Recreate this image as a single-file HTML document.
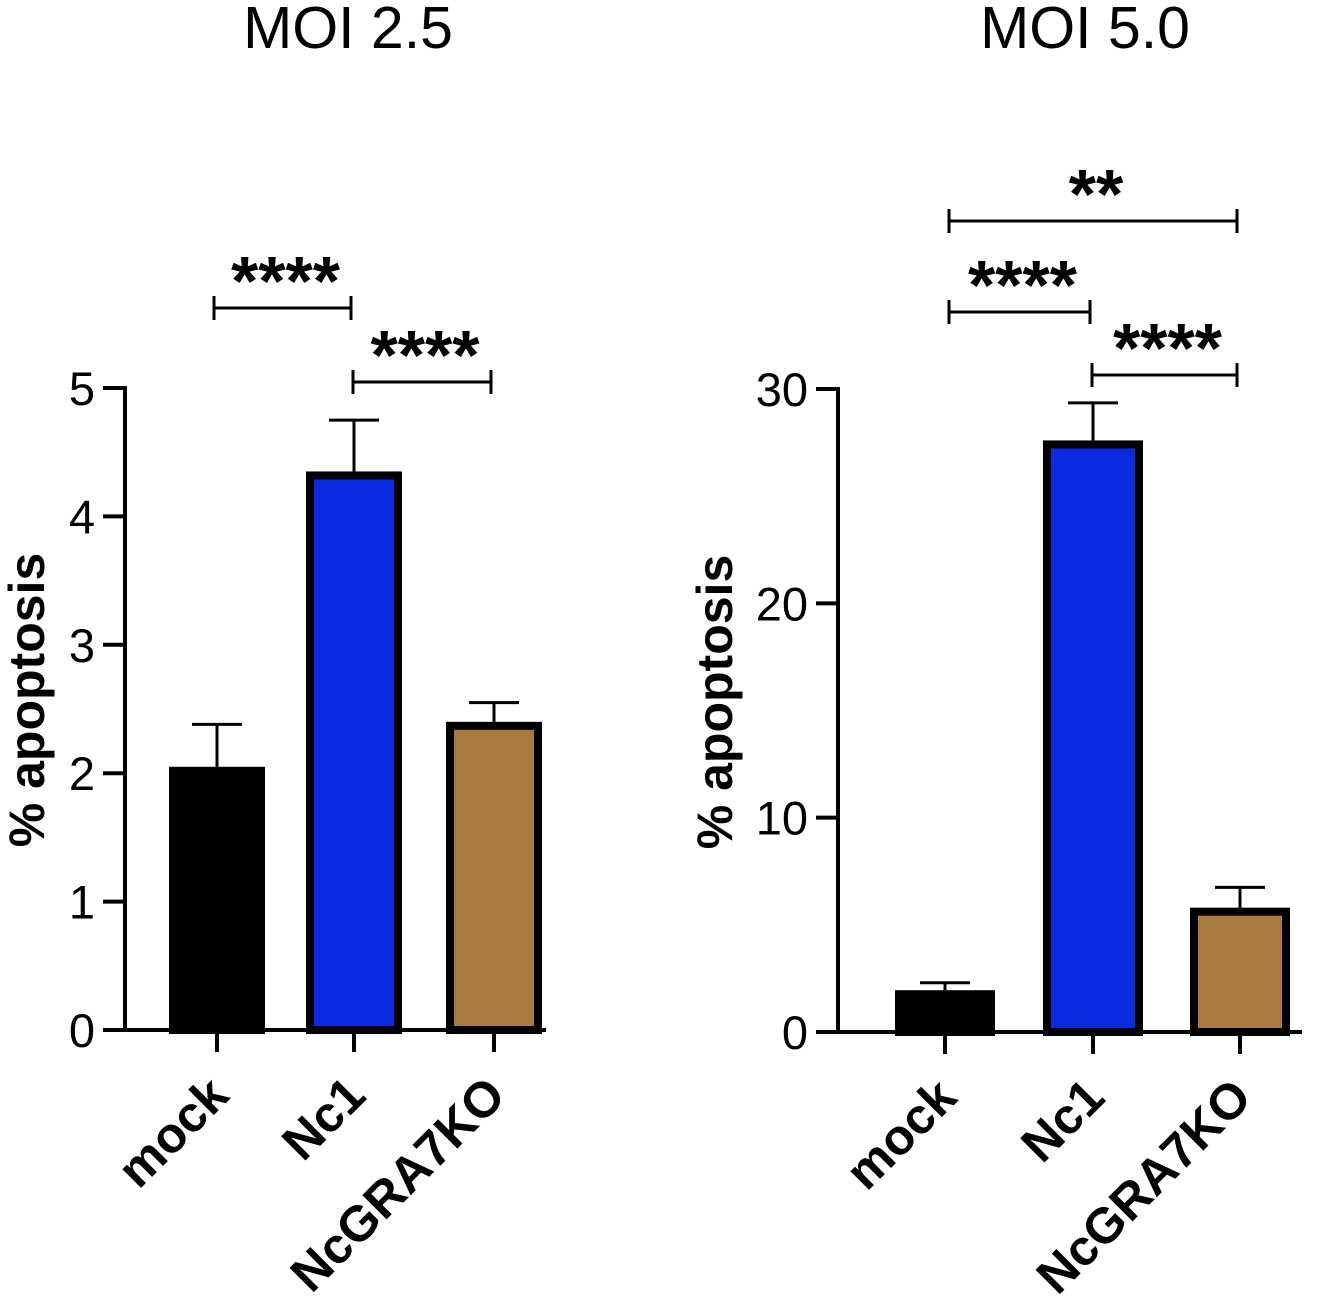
<!DOCTYPE html>
<html><head><meta charset="utf-8"><style>
html,body{margin:0;padding:0;background:#fff}
svg{display:block;font-family:"Liberation Sans",Arial,sans-serif}
</style></head><body>
<svg id="chart" width="1344" height="1304" viewBox="0 0 1344 1304" xmlns="http://www.w3.org/2000/svg"></svg>
<script>
const categories = ["mock","Nc1","NcGRA7KO"];
const colors = ["#000000","#0a2be0","#a87a42"];
const moi25Values = [2.05, 4.35, 2.4];
const moi25Errors = [0.33, 0.4, 0.15];
const moi25Ticks = [0,1,2,3,4,5];
const moi5Values = [1.95, 27.6, 5.8];
const moi5Errors = [0.35, 1.75, 0.95];
const moi5Ticks = [0,10,20,30];
const moi25Sig = [{a:0,b:1,label:"****",level:0},{a:1,b:2,label:"****",level:1}];
const moi5Sig = [{a:0,b:2,label:"**",level:0},{a:0,b:1,label:"****",level:1},{a:1,b:2,label:"****",level:2}];

const svg = document.getElementById('chart');
const NS = "http://www.w3.org/2000/svg";
function mk(tag, attrs, parent){ const e=document.createElementNS(NS,tag); for(const k in attrs) e.setAttribute(k,attrs[k]); (parent||svg).appendChild(e); return e; }

function panel(cfg){
  const g = mk('g',{});
  
  
  const y = v => cfg.y0 - (v - 0) / cfg.max * (cfg.y0 - cfg.yTop);
  const x = i => cfg.xs[i];
  const title = mk('text',{x:cfg.titleX,y:48,'font-size':59,'text-anchor':'middle'},g);
  title.textContent = cfg.title;
  
  
  const ya = mk('line',{x1:cfg.ax,y1:y(cfg.max)-2,x2:cfg.ax,y2:cfg.y0+2,stroke:'#000','stroke-width':4},g);
  
  
  cfg.ticks.forEach(t=>{
    const tk = mk('line',{x1:cfg.ax-22,y1:y(t),x2:cfg.ax,y2:y(t),stroke:'#000','stroke-width':4},g);
    
    
    const tl = mk('text',{x:cfg.ax-30,y:y(t)+17,'font-size':47,'text-anchor':'end'},g);
    tl.textContent = t;
    
    
  });
  const yt = mk('text',{x:0,y:0,'font-size':50,'font-weight':'bold','text-anchor':'middle',transform:`translate(${cfg.ytX},${cfg.ytY}) rotate(-90)`},g);
  yt.textContent = '% apoptosis';
  
  
  cfg.values.forEach((v,i)=>{
    const cx = x(i), w = cfg.bw;
    const et = y(v + cfg.errs[i]);
    const el = mk('line',{x1:cx,y1:et,x2:cx,y2:y(v),stroke:'#000','stroke-width':3},g);
    
    
    const ec = mk('line',{x1:cx-25,y1:et,x2:cx+25,y2:et,stroke:'#000','stroke-width':3},g);
    
    
    const r = mk('rect',{x:cx-w/2+4,y:y(v)+4,width:w-8,height:Math.max(0,cfg.y0-y(v)-4),fill:colors[i],stroke:'#000','stroke-width':8},g);
    
    
  });
  const xa = mk('line',{x1:cfg.ax-2,y1:cfg.y0,x2:cfg.xEnd,y2:cfg.y0,stroke:'#000','stroke-width':4},g);
  
  
  categories.forEach((c,i)=>{
    const tk = mk('line',{x1:x(i),y1:cfg.y0,x2:x(i),y2:cfg.y0+22,stroke:'#000','stroke-width':4},g);
    
    
    const tl = mk('text',{x:0,y:0,'font-size':50,'font-weight':'bold','text-anchor':'end',transform:`translate(${x(i)+14},${cfg.y0+68}) rotate(-45)`},g);
    tl.textContent = c;
    
    
  });
  cfg.sig.forEach(s=>{
    const by = cfg.sigY[s.level];
    const x1 = x(s.a)+(s.a>0?-1:cfg.bOff), x2 = x(s.b)-3;
    const bl = mk('path',{d:`M${x1},${by-12}V${by+12}M${x1},${by}H${x2}M${x2},${by-12}V${by+12}`,stroke:'#000','stroke-width':3,fill:'none'},g);
    
    
    const st = mk('text',{x:(x1+x2)/2+3,y:by-3,'font-size':70,'font-weight':'bold','text-anchor':'middle'},g);
    st.textContent = s.label;
    
    
  });
}

panel({name:'chart-moi-2-5',title:'MOI 2.5',titleX:348,ax:125,y0:1030,yTop:388,max:5,ticks:moi25Ticks,
  xs:[217,354,494],bw:96,values:moi25Values,errs:moi25Errors,xEnd:546,ytX:44,ytY:700,bOff:-3,sig:moi25Sig,sigY:[308,382]});
panel({name:'chart-moi-5-0',title:'MOI 5.0',titleX:1085,ax:838,y0:1032,yTop:389,max:30,ticks:moi5Ticks,
  xs:[945,1093,1240],bw:100,values:moi5Values,errs:moi5Errors,xEnd:1302,ytX:732,ytY:702,bOff:4,sig:moi5Sig,sigY:[221,312,375]});
</script>
</body></html>
